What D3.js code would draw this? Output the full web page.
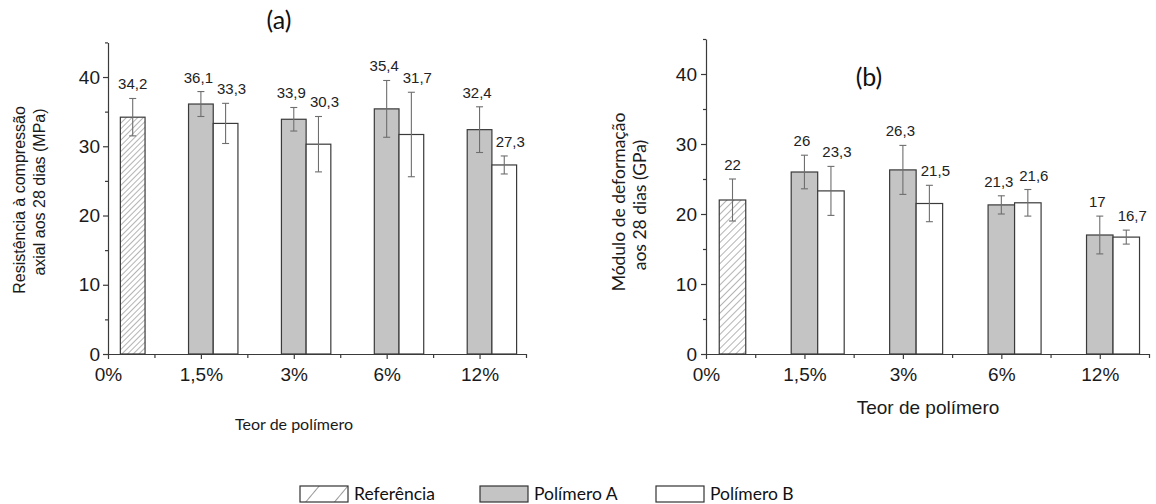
<!DOCTYPE html>
<html>
<head>
<meta charset="utf-8">
<script src="https://cdn.jsdelivr.net/npm/d3@7"></script>
<style>
  body { margin: 0; background: #fff; }
  svg { display: block; }
</style>
</head>
<body>
<svg id="chart" width="1156" height="504"></svg>
<script>
// Polymer content categories (shared by both panels)
const categories = ["0%", "1,5%", "3%", "6%", "12%"];

// (a) Axial compressive strength at 28 days, MPa
const strengthRef = 34.2;
const strengthRefErr = 2.7;
const strengthA = [36.1, 33.9, 35.4, 32.4];
const strengthAErr = [1.8, 1.7, 4.1, 3.3];
const strengthB = [33.3, 30.3, 31.7, 27.3];
const strengthBErr = [2.9, 4.0, 6.1, 1.3];

// (b) Deformation modulus at 28 days, GPa
const modulusRef = 22;
const modulusRefErr = 3.0;
const modulusA = [26, 26.3, 21.3, 17];
const modulusAErr = [2.4, 3.5, 1.3, 2.7];
const modulusB = [23.3, 21.5, 21.6, 16.7];
const modulusBErr = [3.5, 2.6, 1.9, 1.0];

const yTicks = [0, 10, 20, 30, 40];
const yMinorTicks = [5, 15, 25, 35, 45];
const legendLabels = ["Referência", "Polímero A", "Polímero B"];

const ARIAL = "'Liberation Sans', Arial, sans-serif";
const CALIBRI = "Lato, 'Open Sans', sans-serif";
const fillA = "#c4c4c4";
const barStroke = "#3a3a3a";
const errColor = "#6e6e6e";

const svg = d3.select("#chart");
const defs = svg.append("defs");

function addHatch(id, step) {
  const p = defs.append("pattern")
    .attr("id", id)
    .attr("patternUnits", "userSpaceOnUse")
    .attr("width", step).attr("height", step)
    .attr("patternTransform", "rotate(45)");
  p.append("rect").attr("width", step).attr("height", step).attr("fill", "#fff");
  p.append("line")
    .attr("x1", 0).attr("y1", 0).attr("x2", 0).attr("y2", step)
    .attr("stroke", "#6a6a6a").attr("stroke-width", 1);
}
addHatch("hatchA", 4);
addHatch("hatchB", 5);

const fmt = v => String(v).replace(".", ",");

function drawPanel(cfg) {
  const g = svg.append("g");
  const x = d3.scaleLinear().domain([0, 4.5]).range([cfg.x0, cfg.x1]);
  const y = d3.scaleLinear().domain([0, 45]).range([cfg.yBase, cfg.yTop]);
  const bw = cfg.barWidth;

  const records = [{ cat: 0, slot: 1, v: cfg.ref, e: cfg.refErr, kind: "ref" }];
  cfg.a.forEach((v, i) => records.push({ cat: i + 1, slot: 0, v, e: cfg.aErr[i], kind: "a" }));
  cfg.b.forEach((v, i) => records.push({ cat: i + 1, slot: 1, v, e: cfg.bErr[i], kind: "b" }));
  const left = d => x(d.cat) + (d.slot - 0.5) * bw;
  const cx = d => left(d) + bw / 2;

  // bars
  g.selectAll("rect.bar").data(records).join("rect")
    .attr("class", "bar")
    .attr("x", left)
    .attr("y", d => y(d.v))
    .attr("width", bw)
    .attr("height", d => y(0) - y(d.v))
    .attr("fill", d => d.kind === "ref" ? `url(#${cfg.hatch})` : d.kind === "a" ? fillA : "#fff")
    .attr("stroke", barStroke)
    .attr("stroke-width", 1.2);

  // error bars
  const eg = g.selectAll("g.err").data(records).join("g")
    .attr("class", "err")
    .attr("stroke", errColor).attr("stroke-width", 1.1);
  eg.append("line")
    .attr("x1", cx).attr("x2", cx)
    .attr("y1", d => y(d.v + d.e)).attr("y2", d => y(d.v - d.e));
  eg.append("line")
    .attr("x1", d => cx(d) - 3.5).attr("x2", d => cx(d) + 3.5)
    .attr("y1", d => y(d.v + d.e)).attr("y2", d => y(d.v + d.e));
  eg.append("line")
    .attr("x1", d => cx(d) - 3.5).attr("x2", d => cx(d) + 3.5)
    .attr("y1", d => y(d.v - d.e)).attr("y2", d => y(d.v - d.e));

  // value labels above the error bars
  g.selectAll("text.val").data(records).join("text")
    .attr("class", "val")
    .attr("x", d => cx(d) + (d.kind === "a" ? -2.5 : d.kind === "b" ? 6 : 0))
    .attr("y", d => y(d.v + d.e) - 9)
    .attr("text-anchor", "middle")
    .attr("font-family", ARIAL).attr("font-size", 15).attr("fill", "#222")
    .text(d => fmt(d.v));

  // y axis
  const ya = g.append("g").attr("transform", `translate(${cfg.x0},0)`)
    .call(d3.axisLeft(y).tickValues(yTicks).tickSize(5).tickSizeOuter(0).tickPadding(cfg.yPad));
  const ym = g.append("g").attr("transform", `translate(${cfg.x0},0)`)
    .call(d3.axisLeft(y).tickValues(yMinorTicks).tickSize(3).tickSizeOuter(0).tickFormat(""));
  ym.select(".domain").remove();

  // x axis
  const xa = g.append("g").attr("transform", `translate(0,${cfg.yBase})`)
    .call(d3.axisBottom(x).tickValues([0, 1, 2, 3, 4]).tickFormat(i => categories[i])
      .tickSize(5).tickSizeOuter(0).tickPadding(9));
  const xm = g.append("g").attr("transform", `translate(0,${cfg.yBase})`)
    .call(d3.axisBottom(x).tickValues([0.5, 1.5, 2.5, 3.5, 4.5]).tickSize(4).tickFormat(""));
  xm.select(".domain").remove();

  [ya, ym, xa, xm].forEach(a => {
    a.selectAll(".domain, line").attr("stroke", "#3a3a3a").attr("stroke-width", 1.2);
    a.selectAll("text").attr("font-family", ARIAL).attr("font-size", 19).attr("fill", "#1a1a1a");
  });

  // y axis title (two lines)
  cfg.yTitle.forEach((t, i) => {
    g.append("text")
      .attr("transform", `translate(${cfg.yTitleX[i]},${cfg.yTitleY[i]}) rotate(-90)`)
      .attr("text-anchor", "middle")
      .attr("font-family", cfg.yTitleFont).attr("font-size", cfg.yTitleSize).attr("fill", "#1a1a1a")
      .text(t);
  });

  // x axis title
  g.append("text")
    .attr("x", cfg.xTitleX).attr("y", cfg.xTitleY)
    .attr("text-anchor", "middle")
    .attr("font-family", cfg.xTitleFont).attr("font-size", cfg.xTitleSize).attr("fill", "#1a1a1a")
    .text("Teor de polímero");

  // panel letter
  g.append("text")
    .attr("x", cfg.tagX).attr("y", cfg.tagY)
    .attr("text-anchor", "middle")
    .attr("font-family", CALIBRI).attr("font-size", 25).attr("fill", "#111")
    .text(cfg.tag);
}

drawPanel({
  x0: 108, x1: 526, yBase: 354, yTop: 42.4, barWidth: 24.7, hatch: "hatchA", yPad: 3,
  ref: strengthRef, refErr: strengthRefErr,
  a: strengthA, aErr: strengthAErr, b: strengthB, bErr: strengthBErr,
  yTitle: ["Resistência à compressão", "axial aos 28 dias (MPa)"],
  yTitleX: [25, 45], yTitleY: [200, 192], yTitleFont: ARIAL, yTitleSize: 16,
  xTitleX: 294, xTitleY: 430, xTitleFont: CALIBRI, xTitleSize: 16,
  tag: "(a)", tagX: 279, tagY: 29
});

drawPanel({
  x0: 706, x1: 1149, yBase: 354, yTop: 39, barWidth: 26.5, hatch: "hatchB", yPad: 4,
  ref: modulusRef, refErr: modulusRefErr,
  a: modulusA, aErr: modulusAErr, b: modulusB, bErr: modulusBErr,
  yTitle: ["Módulo de deformação", "aos 28 dias (GPa)"],
  yTitleX: [625, 646], yTitleY: [202, 205], yTitleFont: CALIBRI, yTitleSize: 17.5,
  xTitleX: 928, xTitleY: 414, xTitleFont: ARIAL, xTitleSize: 19,
  tag: "(b)", tagX: 869, tagY: 86
});

// legend
const legendHatch = defs.append("pattern")
  .attr("id", "hatchLegend")
  .attr("patternUnits", "userSpaceOnUse")
  .attr("width", 22).attr("height", 22)
  .attr("patternTransform", "translate(300,486) rotate(40)");
legendHatch.append("rect").attr("width", 22).attr("height", 22).attr("fill", "#fff");
legendHatch.append("line").attr("x1", 0).attr("y1", 0).attr("x2", 0).attr("y2", 22)
  .attr("stroke", "#333").attr("stroke-width", 1);

const legendX = [300, 480, 656];
const legendFills = ["url(#hatchLegend)", fillA, "#fff"];
const lg = svg.append("g").selectAll("g").data(legendLabels).join("g")
  .attr("transform", (d, i) => `translate(${legendX[i]},486)`);
lg.append("rect")
  .attr("width", 48).attr("height", 16)
  .attr("fill", (d, i) => legendFills[i])
  .attr("stroke", "#333").attr("stroke-width", 1.2);
lg.append("text")
  .attr("x", 54).attr("y", 14)
  .attr("font-family", CALIBRI).attr("font-size", 17.5).attr("fill", "#111")
  .text(d => d);
</script>
</body>
</html>
